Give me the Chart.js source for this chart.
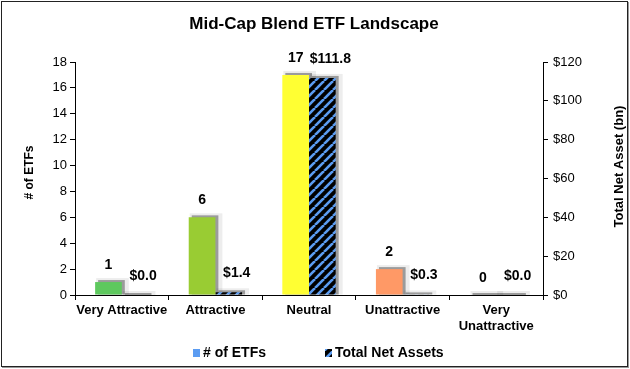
<!DOCTYPE html>
<html>
<head>
<meta charset="utf-8">
<script src="https://cdn.jsdelivr.net/npm/chart.js@4/dist/chart.umd.min.js"></script>
<style>
  body { margin: 0; background: #fff; }
  #wrap { position: relative; width: 630px; height: 369px; }
  #frame { position: absolute; left: 1px; top: 1px; width: 625px; height: 364px;
           border: 1px solid #222; box-shadow: 1px 1px 0 #999; pointer-events: none; }
</style>
</head>
<body>
<div id="wrap">
  <canvas id="myChart" width="630" height="369"></canvas>
  <div id="frame"></div>
</div>
<script>
const categories = ['Very Attractive', 'Attractive', 'Neutral', 'Unattractive', ['Very', 'Unattractive']]
const etfCounts = [1, 6, 17, 2, 0]
const netAssets = [0.0, 1.4, 111.8, 0.3, 0.0]
const countColors = ['#5ec85e', '#99cc33', '#ffff33', '#ff9966', '#e05050']

const FONT = 'Arial, "Liberation Sans", sans-serif'

function makeHatch() {
  const c = document.createElement('canvas')
  c.width = 9
  c.height = 9
  const g = c.getContext('2d')
  g.fillStyle = '#000'
  g.fillRect(0, 0, 9, 9)
  g.strokeStyle = '#5b9cf2'
  g.lineWidth = 2.6
  for (const o of [-9, 0, 9]) {
    g.beginPath()
    g.moveTo(o, 9)
    g.lineTo(o + 9, 0)
    g.stroke()
  }
  return g.createPattern(c, 'repeat')
}
const ctx = document.getElementById('myChart').getContext('2d')
const hatch = makeHatch()

// gray drop shadow behind every bar, like the Excel original
const barShadow = {
  id: 'barShadow',
  beforeDatasetsDraw(chart) {
    const c = chart.ctx
    c.save()
    chart.getSortedVisibleDatasetMetas().forEach(meta => {
      meta.data.forEach(bar => {
        const left = bar.x - bar.width / 2
        const h = bar.base - bar.y
        c.fillStyle = 'rgba(0,0,0,0.07)'
        c.fillRect(left + 1, bar.y - 4, bar.width + 6, h + 4)
        c.fillStyle = 'rgba(0,0,0,0.35)'
        c.fillRect(left + 3, bar.y - 2, bar.width, h + 2)
      })
    })
    c.restore()
  },
}

const extras = {
  id: 'extras',
  afterDraw(chart) {
    const c = chart.ctx
    const area = chart.chartArea
    c.save()
    c.fillStyle = '#000'
    c.textAlign = 'center'

    // title
    c.textBaseline = 'alphabetic'
    c.font = 'bold 17px ' + FONT
    c.fillText('Mid-Cap Blend ETF Landscape', 314, 29)

    // value labels
    c.textBaseline = 'middle'
    c.font = 'bold 14px ' + FONT
    chart.getDatasetMeta(0).data.forEach((bar, i) => {
      c.fillText(String(etfCounts[i]), bar.x, bar.y - 17)
    })
    chart.getDatasetMeta(1).data.forEach((bar, i) => {
      c.fillText('$' + netAssets[i].toFixed(1), bar.x + 8, bar.y - 19)
    })

    // axis titles, both reading upward
    const midY = (area.top + area.bottom) / 2
    c.font = 'bold 12px ' + FONT
    c.save()
    c.translate(30, midY - 6)
    c.rotate(-Math.PI / 2)
    c.fillText('# of ETFs', 0, 0)
    c.restore()
    c.font = 'bold 13px ' + FONT
    c.save()
    c.translate(619, midY - 12)
    c.rotate(-Math.PI / 2)
    c.fillText('Total Net Asset (bn)', 0, 0)
    c.restore()

    // legend
    c.font = 'bold 14px ' + FONT
    c.textAlign = 'left'
    c.fillStyle = '#5b9cf2'
    c.fillRect(193, 349, 7, 8)
    c.fillStyle = '#000'
    c.fillText('# of ETFs', 203, 353)
    c.fillStyle = hatch
    c.fillRect(325, 349, 7, 8)
    c.fillStyle = '#000'
    c.fillText('Total Net Assets', 335, 353)
    c.restore()
  },
}

const axisGrid = { drawOnChartArea: false, color: '#000', tickLength: 5, tickColor: '#000' }
const axisBorder = { color: '#000', width: 1 }

new Chart(ctx, {
  type: 'bar',
  data: {
    labels: categories,
    datasets: [
      {
        label: '# of ETFs',
        data: etfCounts,
        backgroundColor: countColors,
        yAxisID: 'y',
      },
      {
        label: 'Total Net Assets',
        data: netAssets,
        backgroundColor: hatch,
        yAxisID: 'y1',
      },
    ],
  },
  options: {
    responsive: false,
    animation: false,
    devicePixelRatio: 1,
    layout: { padding: { top: 62, left: 0, right: 0, bottom: 0 } },
    datasets: { bar: { categoryPercentage: 0.57, barPercentage: 1 } },
    plugins: {
      legend: { display: false },
      title: { display: false },
      tooltip: { enabled: false },
    },
    scales: {
      x: {
        grid: { ...axisGrid, offset: true },
        border: axisBorder,
        ticks: {
          color: '#000',
          font: { family: FONT, size: 13, weight: 'bold' },
          maxRotation: 0,
          autoSkip: false,
          padding: 3,
        },
        afterFit: s => { s.height = 74 },
      },
      y: {
        position: 'left',
        min: 0,
        max: 18,
        grid: axisGrid,
        border: axisBorder,
        ticks: { stepSize: 2, color: '#000', font: { family: FONT, size: 13 }, padding: 3 },
        afterFit: s => { s.width = 75 },
      },
      y1: {
        position: 'right',
        min: 0,
        max: 120,
        grid: axisGrid,
        border: axisBorder,
        ticks: { stepSize: 20, color: '#000', font: { family: FONT, size: 13 }, padding: 5, callback: v => '$' + v },
        afterFit: s => { s.width = 87 },
      },
    },
  },
  plugins: [barShadow, extras],
})
</script>
</body>
</html>
